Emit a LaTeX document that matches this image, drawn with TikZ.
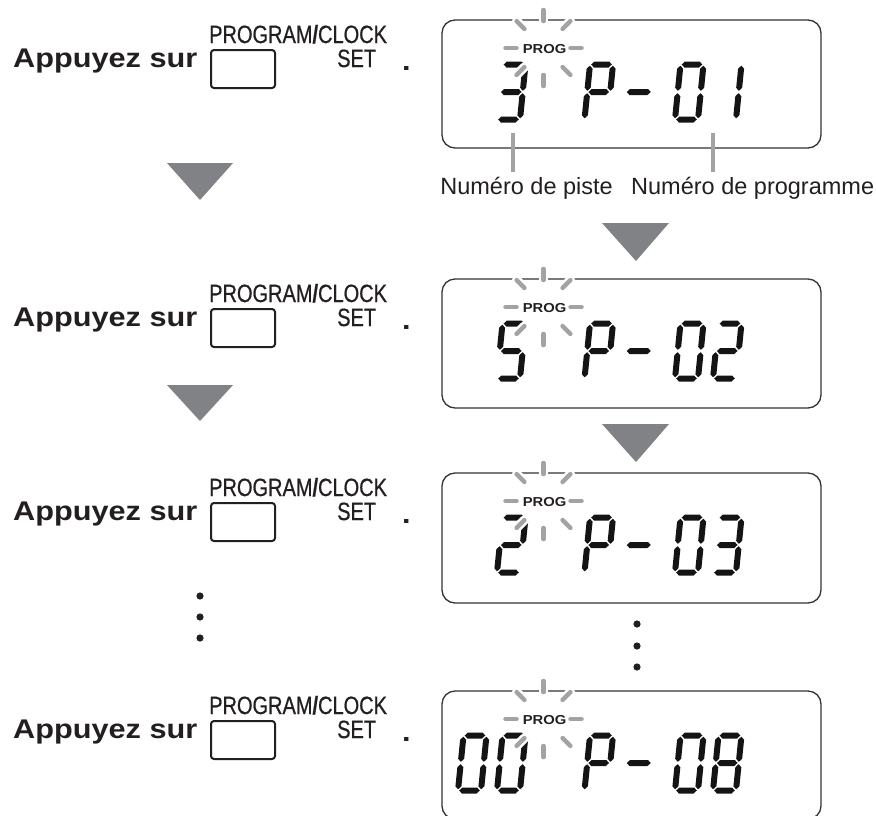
\documentclass[tikz,border=0pt]{standalone}
\usepackage{fontspec}
\setmainfont{Liberation Sans}
\newfontfamily\titlef[FakeStretch=1.136]{Liberation Sans}
\newfontfamily\condf[FakeStretch=0.80,FakeBold=0.6]{Liberation Sans}
\definecolor{txtc}{HTML}{231F20}
\definecolor{dispc}{HTML}{333333}
\definecolor{trig}{HTML}{808285}
\definecolor{rayc}{HTML}{A3A3A3}
\definecolor{lcdc}{HTML}{141414}
\tikzset{
  disp/.style={draw=dispc, line width=1.3pt, rounded corners=13pt},
  btn/.style={draw=txtc, line width=2pt, rounded corners=3pt},
  tri/.style={fill=trig},
  ray/.style={draw=rayc, line width=4.5pt, line cap=round},
  halo/.style={draw=white, line width=9.5pt, line cap=round},
  pointer/.style={draw=rayc, line width=4pt},
  appuyez/.style={anchor=base west, inner sep=0pt, text=txtc, font={\titlef\bfseries\fontsize{27pt}{27pt}\selectfont}},
  condtxt/.style={anchor=base west, inner sep=0pt, text=txtc, font={\condf\fontsize{25pt}{25pt}\selectfont}},
  progtxt/.style={anchor=base, inner sep=0pt, text=txtc, font={\titlef\bfseries\fontsize{13pt}{13pt}\selectfont}},
  labtxt/.style={inner sep=0pt, text=txtc, font={\fontsize{23.5pt}{23.5pt}\selectfont}},
  dot/.style={fill=txtc}
}
% seven-segment helpers (half thickness 3)
\newcommand\hsg[3]{\fill (#1,#3) -- (#1+3,#3+3) -- (#2-3,#3+3) -- (#2,#3) -- (#2-3,#3-3) -- (#1+3,#3-3) -- cycle;}
\newcommand\vsg[3]{\fill (#1,#2) -- (#1+3,#2+3) -- (#1+3,#3-3) -- (#1,#3) -- (#1-3,#3-3) -- (#1-3,#2+3) -- cycle;}
\newcommand\lcdsegA[1]{\hsg{#1+1.2}{#1+21.8}{55}}
\newcommand\lcdsegB[1]{\vsg{#1+23}{28.7}{53.8}}
\newcommand\lcdsegC[1]{\vsg{#1+23}{1.2}{26.3}}
\newcommand\lcdsegD[1]{\hsg{#1+1.2}{#1+21.8}{0}}
\newcommand\lcdsegE[1]{\vsg{#1}{1.2}{26.3}}
\newcommand\lcdsegF[1]{\vsg{#1}{28.7}{53.8}}
\newcommand\lcdsegG[1]{\hsg{#1+1.2}{#1+21.8}{27.5}}
\newcommand\lcddigit[2]{\foreach \s in {#2}{\csname lcdseg\s\endcsname{#1}}}
\newcommand\burst[2]{%
  \foreach \a in {0,45,...,315}{\draw[halo,shift={(#1,#2)}] (\a:27) -- (\a:38);}
  \foreach \a in {0,45,...,315}{\draw[ray,shift={(#1,#2)}] (\a:27) -- (\a:38);}}
% one display: #1 top y, #2 height, #3 name, #4 digits
\newcommand\lcdpanel[4]{%
  \draw[disp] (442,#1) rectangle (821,#1+#2);
  \coordinate (#3) at (631.5,#1);
  \begin{scope}[shift={(442,#1+99.5)}, y=1pt, xslant=0.1, color=lcdc]
    #4
    \lcddigit{142.5}{A,B,F,G,E}
    \hsg{182}{206}{27.5}
  \end{scope}
  \burst{543.5}{#1+28}
  \node[progtxt] (#3prog) at (544.5,#1+33) {PROG};}
% one left row: #1 vertical offset, #2 name
\newcommand\leftrow[2]{%
  \node[appuyez] (#2a) at (13,67.5+#1) {Appuyez sur};
  \draw[btn] (211,50+#1) rectangle (275,88+#1);
  \node[condtxt] (#2b) at (209,43+#1) {PROGRAM{\bfseries/}CLOCK};
  \node[condtxt] (#2c) at (337,67+#1) {SET};
  \node[appuyez] (#2d) at (402,70+#1) {.};}
\begin{document}
\begin{tikzpicture}[x=1pt,y=-1pt]
\useasboundingbox (0,0) rectangle (876,815);
\fill[white] (0,0) rectangle (876,815);
% left rows
\leftrow{0}{r1}
\leftrow{259}{r2}
\leftrow{453}{r3}
\leftrow{671}{r4}
% left triangles
\fill[tri] (167,163) -- (233,163) -- (200,200) -- cycle;
\fill[tri] (167,385) -- (233,385) -- (200,421) -- cycle;
% left dots
\fill[dot] (200,596) circle (3.6pt);
\fill[dot] (200,617) circle (3.6pt);
\fill[dot] (200,638) circle (3.6pt);
% displays
\lcdpanel{20}{128}{d1}{\lcddigit{55}{A,B,G,C,D}\lcddigit{233}{A,B,C,D,E,F}\lcddigit{271}{B,C}}
\lcdpanel{279}{129}{d2}{\lcddigit{55}{A,F,G,C,D}\lcddigit{233}{A,B,C,D,E,F}\lcddigit{271}{A,B,G,E,D}}
\lcdpanel{473}{130}{d3}{\lcddigit{55}{A,B,G,E,D}\lcddigit{233}{A,B,C,D,E,F}\lcddigit{271}{A,B,G,C,D}}
\lcdpanel{691}{128}{d4}{\lcddigit{16}{A,B,C,D,E,F}\lcddigit{55}{A,B,C,D,E,F}\lcddigit{233}{A,B,C,D,E,F}\lcddigit{271}{A,B,C,D,E,F,G}}
% pointers and labels of display 1
\coordinate (p1top) at (513,133);
\coordinate (p1bot) at (513,172);
\coordinate (p2top) at (713,133);
\coordinate (p2bot) at (713,172);
\draw[pointer] (p1top) -- (p1bot);
\draw[pointer] (p2top) -- (p2bot);
\node[labtxt, anchor=base east] (lpiste) at (613,194) {Numéro de piste};
\node[labtxt, anchor=base west] (lprog) at (631,194) {Numéro de programme};
% right triangles
\fill[tri] (602,223) -- (669,223) -- (636,261) -- cycle;
\fill[tri] (602,424) -- (669,424) -- (636,462) -- cycle;
% right dots
\fill[dot] (637,624) circle (3.6pt);
\fill[dot] (637,646) circle (3.6pt);
\fill[dot] (637,667) circle (3.6pt);
\end{tikzpicture}
\end{document}
